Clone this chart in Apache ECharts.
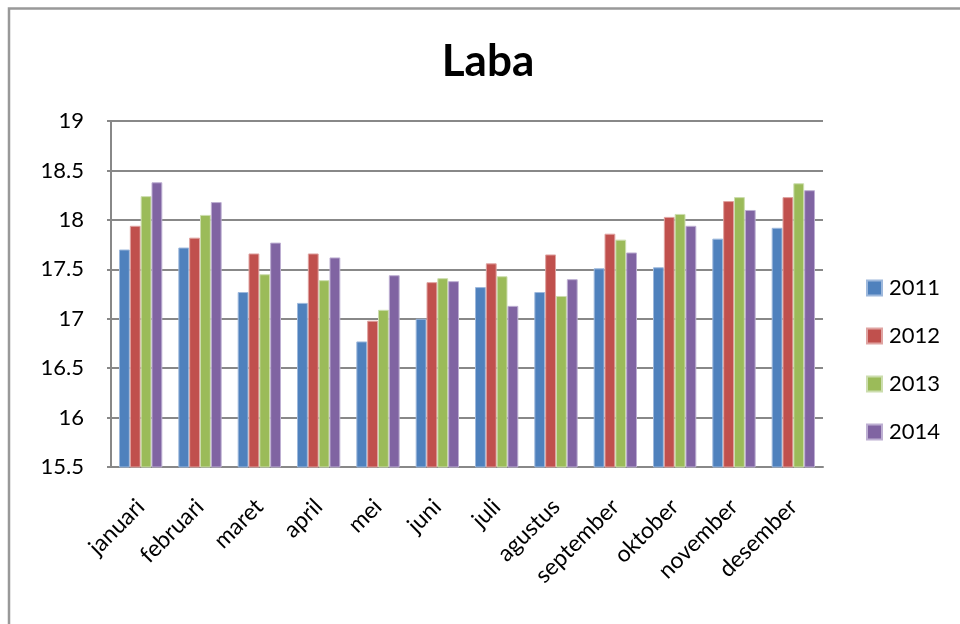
<!DOCTYPE html>
<html>
<head>
<meta charset="utf-8">
<script src="https://cdn.jsdelivr.net/npm/echarts@6/dist/echarts.min.js"></script>
<style>
  html, body { margin: 0; padding: 0; background: #fff; }
  #chart { width: 960px; height: 624px; }
</style>
</head>
<body>
<div id="chart"></div>
<script>
// Monthly profit ("Laba") per year, 2011-2014
var months = ['januari', 'februari', 'maret', 'april', 'mei', 'juni', 'juli',
              'agustus', 'september', 'oktober', 'november', 'desember'];
var years = ['2011', '2012', '2013', '2014'];

var laba2011 = [17.70, 17.72, 17.27, 17.16, 16.77, 17.00, 17.32, 17.27, 17.51, 17.52, 17.81, 17.92];
var laba2012 = [17.94, 17.82, 17.66, 17.66, 16.98, 17.37, 17.56, 17.65, 17.86, 18.03, 18.19, 18.23];
var laba2013 = [18.24, 18.05, 17.45, 17.39, 17.09, 17.41, 17.43, 17.23, 17.80, 18.06, 18.23, 18.37];
var laba2014 = [18.38, 18.18, 17.77, 17.62, 17.44, 17.38, 17.13, 17.40, 17.67, 17.94, 18.10, 18.30];

var yTicks = [15.5, 16, 16.5, 17, 17.5, 18, 18.5, 19];

var seriesData = [laba2011, laba2012, laba2013, laba2014];
var colors = ['#4F81BD', '#C0504D', '#9BBB59', '#8064A2'];
var edgeColors = ['#9DB8DC', '#DFA3A1', '#CCDDAE', '#BDAFD2'];

var font = 'Lato, "Open Sans", sans-serif';

var chart = echarts.init(document.getElementById('chart'), null, { renderer: 'canvas' });

chart.setOption({
  animation: false,
  backgroundColor: '#ffffff',
  graphic: [{
    type: 'rect',
    shape: { x: 9, y: 8.5, width: 1000, height: 700 },
    style: { fill: 'none', stroke: '#999999', lineWidth: 2.5 },
    silent: true
  }],
  title: {
    text: 'Laba',
    left: 483,
    top: 35,
    textAlign: 'center',
    textStyle: { fontFamily: font, fontWeight: 'bold', fontSize: 44, color: '#000' }
  },
  legend: {
    orient: 'vertical',
    left: 861,
    top: 272,
    itemWidth: 15,
    itemHeight: 15,
    itemGap: 26,
    icon: 'rect',
    textStyle: { fontFamily: font, fontSize: 22, color: '#000', padding: [0, 0, 0, 2] },
    data: years
  },
  grid: { left: 111, right: 137, top: 121, height: 346, containLabel: false },
  xAxis: {
    type: 'category',
    data: months,
    axisLine: { show: true, lineStyle: { color: '#888888', width: 2 } },
    axisTick: { show: false },
    axisLabel: {
      rotate: 45,
      interval: 0,
      margin: 36,
      fontFamily: font,
      fontSize: 23,
      color: '#000'
    }
  },
  yAxis: {
    type: 'value',
    min: yTicks[0],
    max: yTicks[yTicks.length - 1],
    interval: 0.5,
    axisLine: { show: true, lineStyle: { color: '#888888', width: 2 } },
    axisTick: { show: true, inside: false, length: 4, lineStyle: { color: '#888888', width: 2 } },
    splitLine: { show: true, lineStyle: { color: '#888888', width: 2 } },
    axisLabel: {
      margin: 27,
      fontFamily: font,
      fontSize: 22,
      color: '#000',
      formatter: function (v) { return String(v); }
    }
  },
  series: years.map(function (y, i) {
    return {
      name: y,
      type: 'bar',
      data: seriesData[i],
      barGap: '0%',
      barCategoryGap: '27%',
      itemStyle: { color: colors[i], borderColor: edgeColors[i], borderWidth: 1 }
    };
  })
});
</script>
</body>
</html>
